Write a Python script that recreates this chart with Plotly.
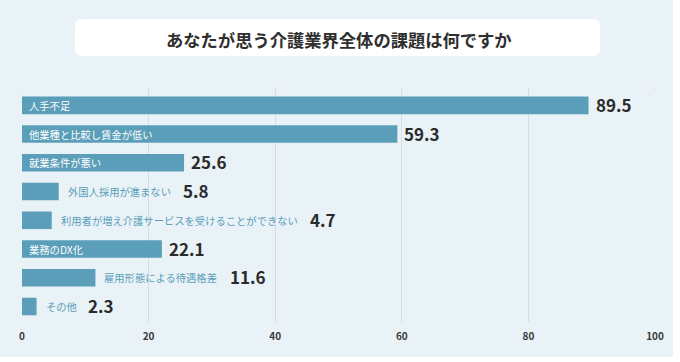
import plotly.graph_objects as go

title_text = "あなたが思う介護業界全体の課題は何ですか"
categories = [
    "人手不足",
    "他業種と比較し賃金が低い",
    "就業条件が悪い",
    "外国人採用が進まない",
    "利用者が増え介護サービスを受けることができない",
    "業務のDX化",
    "雇用形態による待遇格差",
    "その他",
]
values = [89.5, 59.3, 25.6, 5.8, 4.7, 22.1, 11.6, 2.3]
tick_vals = [0, 20, 40, 60, 80, 100]

W, H = 680, 362
ML, MR, MT, MB = 22, 25, 91, 40
PW, PH = W - ML - MR, H - MT - MB
BAR = "#5a9eb9"
BG = "#e9f2f6"
FONT = "Noto Sans CJK JP"
px_per_unit = PW / 100.0


def px(x):
    return (x - ML) / PW


def py(y):
    return 1 - (y - MT) / PH


def text_width(s, cjk=10.3, latin=6.5):
    return sum(latin if ord(c) < 256 else cjk for c in s)


fig = go.Figure(
    go.Bar(
        x=values,
        y=categories,
        orientation="h",
        marker=dict(color=BAR, line=dict(width=0)),
        hoverinfo="skip",
    )
)

annotations = []
for cat, v in zip(categories, values):
    lw = text_width(cat)
    inside = v * px_per_unit > lw + 12
    if inside:
        annotations.append(dict(
            x=0, y=cat, xref="x", yref="y", text=cat, showarrow=False,
            xanchor="left", xshift=5, font=dict(family=FONT, size=10.3, color="white"),
        ))
        vshift = 5
    else:
        annotations.append(dict(
            x=v, y=cat, xref="x", yref="y", text=cat, showarrow=False,
            xanchor="left", xshift=7, font=dict(family=FONT, size=10.3, color=BAR),
        ))
        vshift = 7 + lw + 12
    annotations.append(dict(
        x=v, y=cat, xref="x", yref="y", text="<b>%.1f</b>" % v, showarrow=False,
        xanchor="left", xshift=vshift, yshift=1,
        font=dict(family=FONT, size=17, color="#2b2b2b"),
    ))

annotations.append(dict(
    x=px(339), y=py(39), xref="paper", yref="paper", text="<b>" + title_text + "</b>",
    showarrow=False, xanchor="center", yanchor="middle",
    font=dict(family=FONT, size=17.3, color="#2f2f2f"),
))


def rrect(x0, y0, x1, y1, r):
    def P(x, y):
        return "%f,%f" % (px(x), py(y))
    return ("M " + P(x0 + r, y0) + " L " + P(x1 - r, y0) +
            " Q " + P(x1, y0) + " " + P(x1, y0 + r) +
            " L " + P(x1, y1 - r) + " Q " + P(x1, y1) + " " + P(x1 - r, y1) +
            " L " + P(x0 + r, y1) + " Q " + P(x0, y1) + " " + P(x0, y1 - r) +
            " L " + P(x0, y0 + r) + " Q " + P(x0, y0) + " " + P(x0 + r, y0) + " Z")


shapes = [
    dict(type="rect", xref="paper", yref="paper", x0=px(673), x1=px(W + 5), y0=py(H + 5), y1=py(-5),
         fillcolor="white", line=dict(width=0), layer="below"),
    dict(type="rect", xref="paper", yref="paper", x0=px(-5), x1=px(W + 5), y0=py(H + 5), y1=py(357),
         fillcolor="white", line=dict(width=0), layer="below"),
    dict(type="path", xref="paper", yref="paper", path=rrect(75, 19, 600, 56, 7),
         fillcolor="white", line=dict(width=0), layer="below"),
]
# gridlines extend slightly above the plot area, as in the reference
for t in tick_vals:
    shapes.append(dict(type="line", xref="x", yref="paper", x0=t, x1=t, y0=1, y1=py(87),
                       line=dict(color="#d6dde1", width=1), layer="below"))

fig.update_layout(
    width=W, height=H,
    margin=dict(l=ML, r=MR, t=MT, b=MB),
    paper_bgcolor=BG, plot_bgcolor=BG,
    showlegend=False,
    bargap=0.39,
    xaxis=dict(
        range=[0, 100], tickvals=tick_vals, ticktext=["<b>%d</b>" % t for t in tick_vals],
        showgrid=True, gridcolor="#d6dde1", gridwidth=1,
        zeroline=False, showline=False, ticks="",
        ticklabelstandoff=7,
        tickfont=dict(family=FONT, size=10, color="#3a3a3a"),
        fixedrange=True,
    ),
    yaxis=dict(
        autorange="reversed", showticklabels=False, showgrid=False, zeroline=False,
        showline=False, ticks="", fixedrange=True,
    ),
    annotations=annotations,
    shapes=shapes,
)

fig.write_html(
    "out.html",
    config={"displayModeBar": False},
    post_script="document.body.style.margin='0';document.body.style.overflow='hidden';",
)
